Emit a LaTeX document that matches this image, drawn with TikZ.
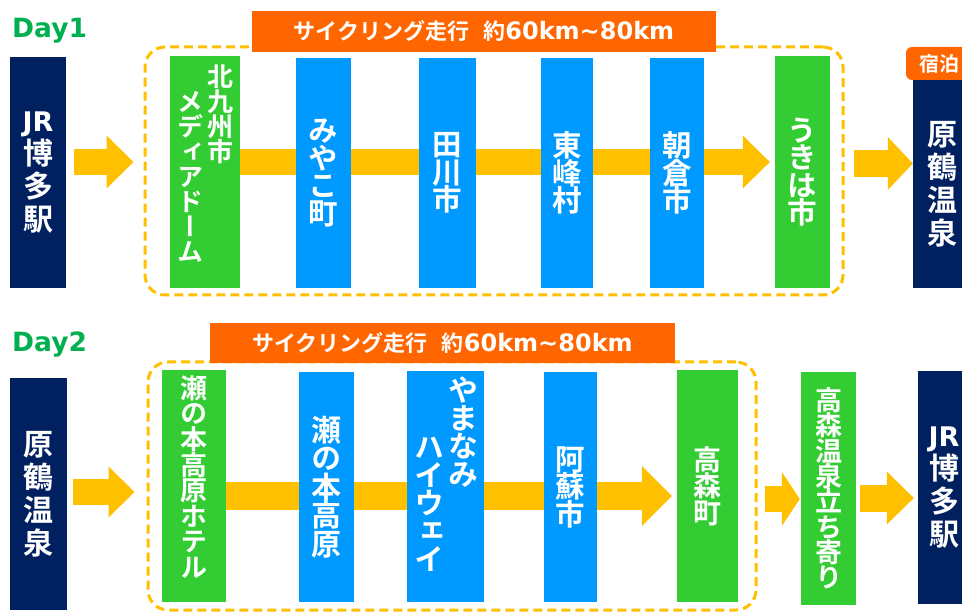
\documentclass[tikz,border=0pt]{standalone}
\usepackage{fontspec}
\usetikzlibrary{arrows.meta,backgrounds}
\setmainfont{DejaVu Sans}
\newfontfamily\cjk{Noto Sans CJK JP Bold}
\newfontfamily\vcjk{Noto Sans CJK JP Bold}[RawFeature=+vert]
\newfontfamily\latb{DejaVu Sans Bold}
\definecolor{navyc}{HTML}{002060}
\definecolor{bluec}{HTML}{0099FF}
\definecolor{greenc}{HTML}{33CC33}
\definecolor{orangec}{HTML}{FF6600}
\definecolor{goldc}{HTML}{FFC000}
\definecolor{dayc}{HTML}{00B050}
\newcommand{\vfsel}[2]{\vcjk\fontsize{#1}{#2}\selectfont\lineskiplimit -50pt\relax}
\newcommand{\jrtext}{{\latb\fontsize{27}{33}\selectfont JR}}
\newcommand{\bannertext}{{\cjk\fontsize{22}{24}\selectfont サイクリング走行}\hspace{14pt}{\cjk\fontsize{22}{24}\selectfont 約}{\latb\fontsize{24}{26}\selectfont 60km\textasciitilde 80km}}
\begin{document}
\begin{tikzpicture}[x=1pt,y=-1pt,
  box/.style args={#1/#2}{inner sep=0pt, minimum width=#1pt, minimum height=#2pt, text=white, align=center},
  vfont/.style args={#1/#2}{font={\vfsel{#1}{#2}}},
  navybox/.style={box=#1, fill=navyc, vfont=30/33},
  bluebox/.style={box=#1, fill=bluec},
  greenbox/.style={box=#1, fill=greenc},
  dashbox/.style={box=#1, draw=goldc, line width=3pt, dash pattern=on 9pt off 5pt, rounded corners=20pt},
  banner/.style={box=#1, fill=orangec},
  tab/.style={box=#1, fill=orangec, rounded corners=6pt, font=\cjk\fontsize{20}{22}\selectfont},
  vlabel/.style={text=white, align=center, inner sep=0pt},
  daylabel/.style={text=dayc, inner sep=0pt, anchor=base west, font=\latb\fontsize{26.5}{28}\selectfont},
  fatarrow/.style args={#1/#2/#3}{draw=goldc, line width=#1pt, -{Triangle[length=#2pt,width=#3pt,line width=0pt]}}
]
\useasboundingbox (0,0) rectangle (962,612);

% ---------- Day 1 ----------
\node[daylabel] (day1) at (12,38) {Day1};
\node[dashbox=698/248] (D1) at (494,171) {};
\node[banner=464/41] (B1) at (484,31.5) {\bannertext};

\node[navybox=56/231] (JR1) at (38,172.5) {\jrtext\\博\\多\\駅};
\node[greenbox=70/232] (MD) at (205,172) {};
\node[vlabel, vfont=26/25] (MDa) at (220,114.5) {北\\九\\州\\市};
\node[vlabel, vfont=26/25] (MDb) at (190,176.5) {メ\\デ\\ィ\\ア\\ド\\ー\\ム};
\node[bluebox=55/230, vfont=29.5/27.5] (MY) at (323.5,173) {み\\や\\こ\\町};
\node[bluebox=57/230, vfont=29.5/27.5] (TG) at (447.5,173) {田\\川\\市};
\node[bluebox=52/230, vfont=29.5/27.5] (TH) at (567,173) {東\\峰\\村};
\node[bluebox=54/230, vfont=29.5/27.5] (AK) at (677,173) {朝\\倉\\市};
\node[greenbox=55/232, vfont=29.5/27.5] (UK) at (802.5,172) {う\\き\\は\\市};
\node[tab=66/33] (HT) at (939,63.5) {宿泊};
\node[navybox=58/208] (HR1) at (942,184) {原\\鶴\\温\\泉};

% ---------- Day 2 ----------
\node[daylabel] (day2) at (12,352) {Day2};
\node[dashbox=608/248] (D2) at (452,486) {};
\node[banner=465/40] (B2) at (442.5,343) {\bannertext};

\node[navybox=57/232] (HR2) at (38.5,494) {原\\鶴\\温\\泉};
\node[greenbox=64/232] (SH) at (194,486) {};
\node[vlabel, vfont=27/25.6] (SHa) at (194,477) {瀬\\の\\本\\高\\原\\ホ\\テ\\ル};
\node[bluebox=55/230, vfont=30/28.5] (SK) at (326.5,487) {瀬\\の\\本\\高\\原};
\node[bluebox=77/231] (YH) at (445.5,486.5) {};
\node[vlabel, vfont=30/28] (YHa) at (463,432) {や\\ま\\な\\み};
\node[vlabel, vfont=30/28] (YHb) at (429,504) {ハ\\イ\\ウ\\ェ\\イ};
\node[bluebox=53/230, vfont=29.5/27.5] (AS) at (570.5,487) {阿\\蘇\\市};
\node[greenbox=61/232, vfont=28/26.5] (TM) at (707.5,486) {高\\森\\町};
\node[greenbox=55/233, vfont=27/25.3] (TO) at (828.5,488.5) {高\\森\\温\\泉\\立\\ち\\寄\\り};
\node[navybox=52/233] (JR2) at (944,487.5) {\jrtext\\博\\多\\駅};

% ---------- arrows ----------
\coordinate (r1) at (0,162);
\coordinate (r2) at (0,163.5);
\coordinate (r3) at (0,492);
\coordinate (r4) at (0,496);
\coordinate (r5) at (0,499);
\coordinate (r6) at (0,498);
\begin{scope}[on background layer]
\fill[white] (0,0) rectangle (962,612);
\draw[fatarrow=26/27/53, shorten <=8pt, shorten >=10pt] (JR1.east |- r1) -- (D1.west |- r1);
\draw[fatarrow=26/27/53, shorten >=5pt] (MD.east |- r1) -- (UK.west |- r1);
\draw[fatarrow=27/25/53, shorten <=9pt] (D1.east |- r2) -- (HR1.west |- r2);
\draw[fatarrow=26/26/51, shorten <=6pt, shorten >=12pt] (HR2.east |- r3) -- (D2.west |- r3);
\draw[fatarrow=28/30/60, shorten >=5pt] (SH.east |- r4) -- (TM.west |- r4);
\draw[fatarrow=26/18/54, shorten <=7pt, shorten >=1pt] (D2.east |- r5) -- (TO.west |- r5);
\draw[fatarrow=27/27/53, shorten <=4pt, shorten >=4pt] (TO.east |- r6) -- (JR2.west |- r6);
\end{scope}
\end{tikzpicture}
\end{document}
